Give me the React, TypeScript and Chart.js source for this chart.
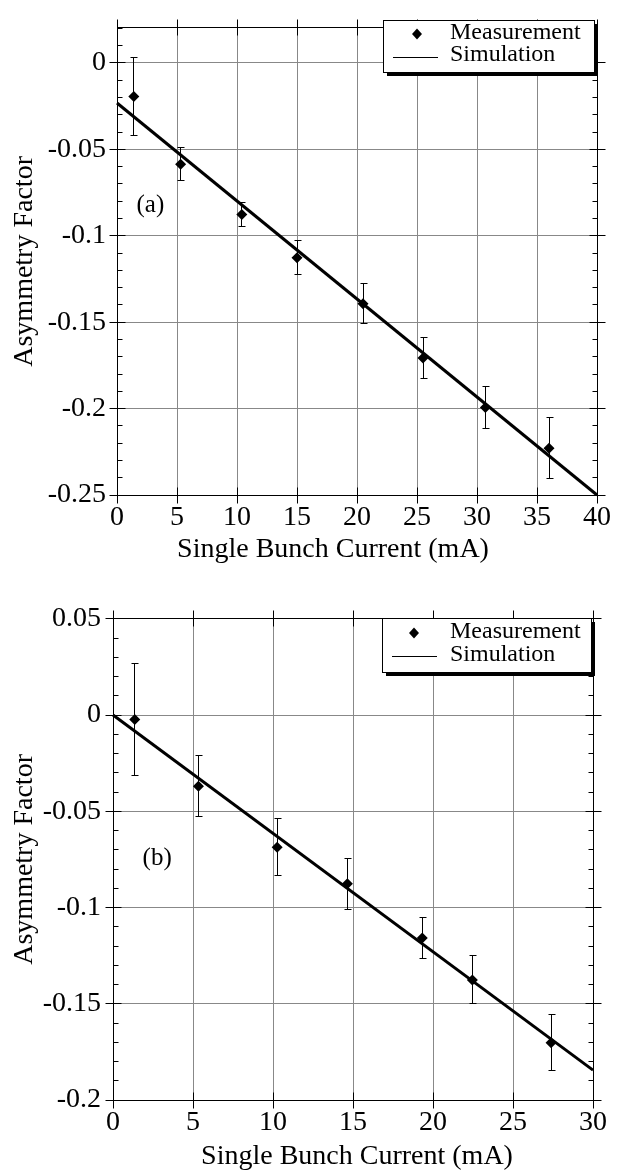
import React, { useEffect, useRef } from "react";
import { Chart, registerables } from "chart.js";

Chart.register(...registerables);

const SERIF = "'Liberation Serif', 'Times New Roman', Times, serif";

// ---------- Panel (a) ----------
const currentA = [1.4, 5.3, 10.4, 15.0, 20.5, 25.5, 30.7, 36.0];
const asymA = [-0.0195, -0.0586, -0.0877, -0.1128, -0.1394, -0.1708, -0.1994, -0.2229];
const errA = [0.0225, 0.0097, 0.007, 0.0098, 0.0115, 0.012, 0.0122, 0.0177];
const simCurrentA = [0, 40];
const simAsymA = [-0.0232, -0.25];
const xTicksA = [0, 5, 10, 15, 20, 25, 30, 35, 40];
const xTickLabelsA = ["0", "5", "10", "15", "20", "25", "30", "35", "40"];
const yTicksA = [0, -0.05, -0.1, -0.15, -0.2, -0.25];
const yTickLabelsA = ["0", "-0.05", "-0.1", "-0.15", "-0.2", "-0.25"];

// ---------- Panel (b) ----------
const currentB = [1.36, 5.34, 10.26, 14.65, 19.33, 22.46, 27.38];
const asymB = [-0.0023, -0.037, -0.0687, -0.0877, -0.1159, -0.1376, -0.1703];
const errB = [0.0289, 0.0159, 0.0149, 0.0133, 0.0105, 0.0125, 0.0146];
const simCurrentB = [0, 30];
const simAsymB = [0.0, -0.1845];
const xTicksB = [0, 5, 10, 15, 20, 25, 30];
const xTickLabelsB = ["0", "5", "10", "15", "20", "25", "30"];
const yTicksB = [0.05, 0, -0.05, -0.1, -0.15, -0.2];
const yTickLabelsB = ["0.05", "0", "-0.05", "-0.1", "-0.15", "-0.2"];

const seriesLabels = ["Measurement", "Simulation"];
const xTitle = "Single Bunch Current (mA)";
const yTitle = "Asymmetry Factor";

type Legend = {
  x: number; y: number; w: number; h: number;
  dX: number; dY: number; tX: number; r1: number; r2: number;
  l0: number; l1: number; lY: number;
};

type Spec = {
  width: number;
  height: number;
  xs: number[];
  ys: number[];
  errs: number[];
  simX: number[];
  simY: number[];
  xTicks: number[];
  xTickLabels: string[];
  yTicks: number[];
  yTickLabels: string[];
  xMin: number;
  xMax: number;
  yMin: number;
  yMax: number;
  minorStep: number;
  tag: string;
  tagX: number;
  tagY: number;
  pad: { left: number; right: number; top: number; bottom: number };
  yAxisWidth: number;
  xAxisHeight: number;
  xTickPad: number;
  yTickPad: number;
  xTitleShift: number;
  xTitleY: number;
  legend: Legend;
};

const al = (p: number) => Math.round(p - 0.5) + 0.5;

function makeDecor(s: Spec) {
  return {
    id: "decor",
    beforeDatasetsDraw(chart: any) {
      const { ctx, chartArea: a } = chart;
      const x = chart.scales.x;
      const y = chart.scales.y;
      const L = al(a.left), R = al(a.right), T = al(a.top), B = al(a.bottom);
      ctx.save();
      ctx.strokeStyle = "#000";
      ctx.lineWidth = 1;
      ctx.beginPath();
      ctx.rect(L, T, R - L, B - T);
      for (const v of s.yTicks) {
        const py = al(y.getPixelForValue(v));
        ctx.moveTo(L - 8, py); ctx.lineTo(L + 8, py);
        ctx.moveTo(R - 8, py); ctx.lineTo(R + 8, py);
      }
      const k0 = Math.ceil(s.yMin / s.minorStep - 1e-9);
      const k1 = Math.floor(s.yMax / s.minorStep + 1e-9);
      for (let k = k0; k <= k1; k++) {
        const py = al(y.getPixelForValue(k * s.minorStep));
        ctx.moveTo(L, py); ctx.lineTo(L + 5, py);
        ctx.moveTo(R - 5, py); ctx.lineTo(R, py);
      }
      for (const v of s.xTicks) {
        const px = al(x.getPixelForValue(v));
        ctx.moveTo(px, T - 8); ctx.lineTo(px, T + 8);
        ctx.moveTo(px, B - 8); ctx.lineTo(px, B + 8);
      }
      ctx.stroke();
      // error bars
      ctx.beginPath();
      s.xs.forEach((xv, i) => {
        const px = al(x.getPixelForValue(xv));
        const t = al(y.getPixelForValue(s.ys[i] + s.errs[i]));
        const b = al(y.getPixelForValue(s.ys[i] - s.errs[i]));
        ctx.moveTo(px, t); ctx.lineTo(px, b);
        ctx.moveTo(px - 3, t); ctx.lineTo(px + 4, t);
        ctx.moveTo(px - 3, b); ctx.lineTo(px + 4, b);
      });
      ctx.stroke();
      ctx.restore();
    },
    afterDraw(chart: any) {
      const { ctx, chartArea: a } = chart;
      const x = chart.scales.x;
      const y = chart.scales.y;
      const g = s.legend;
      ctx.save();
      // legend box with drop shadow
      ctx.fillStyle = "#000";
      ctx.fillRect(g.x + 4, g.y + 4, g.w, g.h);
      ctx.fillStyle = "#fff";
      ctx.fillRect(g.x, g.y, g.w, g.h);
      ctx.strokeStyle = "#000";
      ctx.lineWidth = 1;
      ctx.strokeRect(al(g.x), al(g.y), g.w, g.h);
      ctx.fillStyle = "#000";
      ctx.beginPath();
      ctx.moveTo(g.dX, g.dY - 5.5); ctx.lineTo(g.dX + 5, g.dY);
      ctx.lineTo(g.dX, g.dY + 5.5); ctx.lineTo(g.dX - 5, g.dY);
      ctx.closePath();
      ctx.fill();
      ctx.beginPath();
      ctx.moveTo(g.l0, al(g.lY)); ctx.lineTo(g.l1, al(g.lY));
      ctx.stroke();
      ctx.font = `24px ${SERIF}`;
      ctx.textAlign = "left";
      ctx.textBaseline = "middle";
      ctx.fillText(seriesLabels[0], g.tX, g.r1);
      ctx.fillText(seriesLabels[1], g.tX, g.r2);
      // x-axis title
      ctx.font = `28px ${SERIF}`;
      ctx.textAlign = "center";
      ctx.fillText(xTitle, (a.left + a.right) / 2 + s.xTitleShift, s.xTitleY);
      // panel tag
      ctx.font = `25px ${SERIF}`;
      ctx.fillText(s.tag, x.getPixelForValue(s.tagX), y.getPixelForValue(s.tagY));
      ctx.restore();
    },
  };
}

function Panel({ spec }: { spec: Spec }) {
  const ref = useRef<HTMLCanvasElement | null>(null);
  useEffect(() => {
    const s = spec;
    const canvas = ref.current!;
    const chart = new Chart(canvas, {
      type: "scatter",
      data: {
        datasets: [
          {
            label: seriesLabels[0],
            data: s.xs.map((xv, i) => ({ x: xv, y: s.ys[i] })),
            pointStyle: "rectRot",
            pointRadius: 5.5,
            pointBackgroundColor: "#000",
            pointBorderColor: "#000",
            pointBorderWidth: 0,
            showLine: false,
            order: 0,
          },
          {
            label: seriesLabels[1],
            data: s.simX.map((xv, i) => ({ x: xv, y: s.simY[i] })),
            showLine: true,
            borderColor: "#000",
            borderWidth: 3,
            pointRadius: 0,
            fill: false,
            order: 1,
            clip: 4,
          },
        ],
      },
      options: {
        responsive: false,
        animation: false,
        devicePixelRatio: 1,
        events: [],
        layout: { padding: s.pad },
        plugins: {
          legend: { display: false },
          tooltip: { enabled: false },
        },
        scales: {
          x: {
            type: "linear",
            min: s.xMin,
            max: s.xMax,
            afterBuildTicks: (sc: any) => {
              sc.ticks = s.xTicks.map((v) => ({ value: v }));
            },
            afterFit: (sc: any) => {
              sc.height = s.xAxisHeight;
            },
            ticks: {
              callback: (_v: any, i: number) => s.xTickLabels[i],
              font: { family: SERIF, size: 28 },
              color: "#000",
              padding: s.xTickPad,
              maxRotation: 0,
              autoSkip: false,
            },
            grid: { color: "#888888", lineWidth: 1, drawTicks: false },
            border: { display: true, color: "#000", width: 1 },
            title: { display: false },
          },
          y: {
            type: "linear",
            min: s.yMin,
            max: s.yMax,
            afterBuildTicks: (sc: any) => {
              sc.ticks = s.yTicks.map((v) => ({ value: v }));
            },
            afterFit: (sc: any) => {
              sc.width = s.yAxisWidth;
            },
            ticks: {
              callback: (_v: any, i: number) => s.yTickLabels[i],
              font: { family: SERIF, size: 28 },
              color: "#000",
              padding: s.yTickPad,
              autoSkip: false,
            },
            grid: { color: "#888888", lineWidth: 1, drawTicks: false },
            border: { display: true, color: "#000", width: 1 },
            title: {
              display: true,
              text: yTitle,
              font: { family: SERIF, size: 28 },
              color: "#000",
              padding: { top: 8, bottom: 0 },
            },
          },
        },
      },
      plugins: [makeDecor(s) as any],
    } as any);
    return () => chart.destroy();
  }, [spec]);
  return (
    <canvas
      ref={ref}
      width={spec.width}
      height={spec.height}
      style={{ display: "block", width: spec.width, height: spec.height }}
    />
  );
}

const specA: Spec = {
  width: 618,
  height: 590,
  xs: currentA,
  ys: asymA,
  errs: errA,
  simX: simCurrentA,
  simY: simAsymA,
  xTicks: xTicksA,
  xTickLabels: xTickLabelsA,
  yTicks: yTicksA,
  yTickLabels: yTickLabelsA,
  xMin: 0,
  xMax: 40,
  yMin: -0.25,
  yMax: 0.0203,
  minorStep: 0.01,
  tag: "(a)",
  tagX: 2.78,
  tagY: -0.0825,
  pad: { left: 0, right: 21, top: 15, bottom: 15 },
  yAxisWidth: 117,
  xAxisHeight: 80,
  xTickPad: 6,
  yTickPad: 11,
  xTitleShift: -24,
  xTitleY: 550,
  legend: { x: 383, y: 20, w: 211, h: 52, dX: 417, dY: 34, tX: 450, r1: 33, r2: 55, l0: 393, l1: 438, lY: 57 },
};

const specB: Spec = {
  width: 618,
  height: 583,
  xs: currentB,
  ys: asymB,
  errs: errB,
  simX: simCurrentB,
  simY: simAsymB,
  xTicks: xTicksB,
  xTickLabels: xTickLabelsB,
  yTicks: yTicksB,
  yTickLabels: yTickLabelsB,
  xMin: 0,
  xMax: 30,
  yMin: -0.2,
  yMax: 0.05,
  minorStep: 0.01,
  tag: "(b)",
  tagX: 2.76,
  tagY: -0.0746,
  pad: { left: 0, right: 25, top: 25, bottom: 5 },
  yAxisWidth: 113,
  xAxisHeight: 68,
  xTickPad: 6,
  yTickPad: 12,
  xTitleShift: 4,
  xTitleY: 567,
  legend: { x: 382, y: 28, w: 209, h: 54, dX: 414, dY: 43, tX: 450, r1: 42, r2: 65, l0: 392, l1: 437, lY: 66 },
};

export default function App() {
  return (
    <div
      style={{
        position: "absolute",
        left: 0,
        top: 0,
        width: 618,
        height: 1173,
        background: "#fff",
      }}
    >
      <Panel spec={specA} />
      <Panel spec={specB} />
    </div>
  );
}
